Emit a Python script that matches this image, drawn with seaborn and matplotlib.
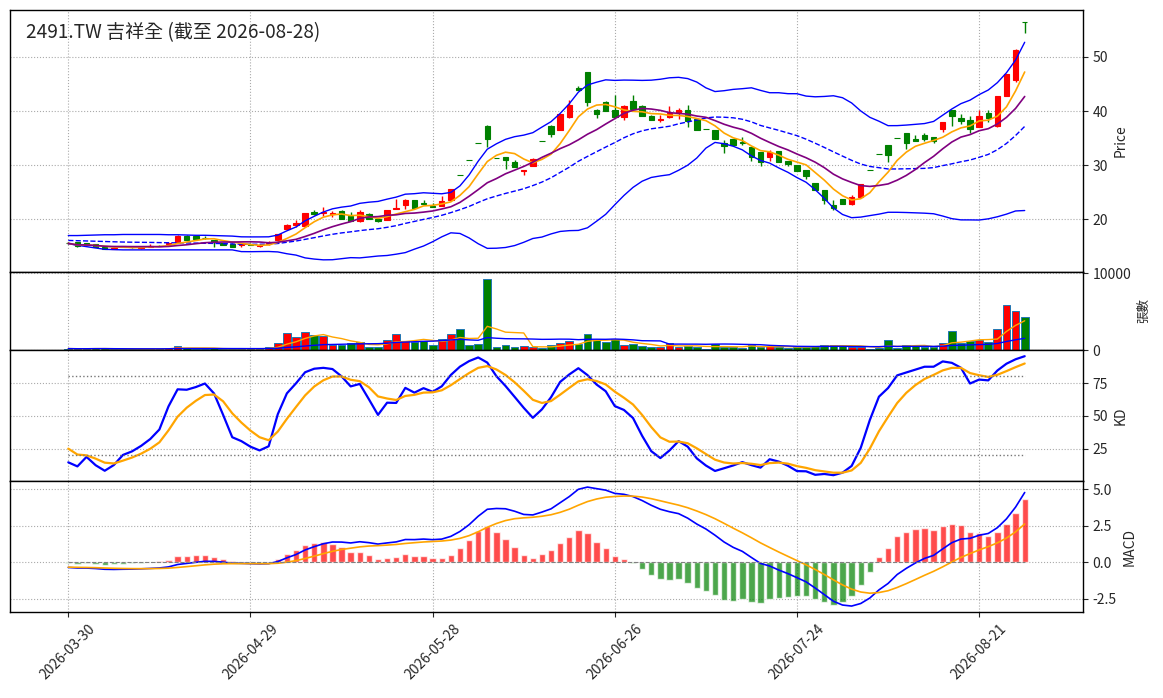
import numpy as np
import pandas as pd
import seaborn as sns
import matplotlib
matplotlib.use("Agg")
import matplotlib.pyplot as plt

# ---- data ----
ticker = "2491.TW"
name = "吉祥全"
holidays = ["2026-04-03", "2026-04-06", "2026-05-01", "2026-06-19"]
dates = pd.bdate_range("2026-03-30", "2026-08-28", freq="C", holidays=holidays)

opens = [15.6, 15.7, 15.5, 15.3, 14.9, 14.5, 14.95, 14.9, 14.6, 14.9,
         15.1, 15.4, 15.5, 16.9, 16.8, 16.5, 16.1, 15.5, 15.4, 15.2,
         15.45, 14.95, 15.3, 16.05, 18.2, 18.9, 18.7, 21.3, 21.1, 20.9,
         21.5, 20.5, 19.6, 21.0, 20.1, 19.8, 21.95, 22.6, 23.55, 22.9,
         22.5, 22.5, 23.56, 28.1, 30.9, 34.0, 37.3, 31.25, 31.4, 30.5,
         28.95, 29.9, 34.45, 37.3, 36.5, 38.9, 44.2, 47.2, 40.2, 41.6,
         40.2, 38.9, 41.8, 41.0, 39.1, 38.4, 38.9, 39.7, 40.2, 38.5,
         36.6, 36.5, 34.1, 34.8, 34.3, 33.3, 32.4, 31.55, 32.6, 30.75,
         29.95, 29.1, 26.6, 25.4, 22.6, 23.68, 22.8, 24.05, 29.1, 32.0,
         33.65, 34.94, 35.9, 34.9, 35.5, 35.1, 36.7, 40.17, 38.7, 38.26,
         37.0, 39.6, 37.2, 42.8, 45.65, 56.5]
highs = [15.8, 15.8, 15.6, 15.4, 15.0, 14.8, 15.0, 15.0, 14.9, 15.3,
         15.2, 15.7, 17.0, 17.0, 16.9, 16.9, 16.2, 15.6, 15.5, 15.5,
         15.5, 15.3, 16.0, 17.2, 19.0, 19.8, 21.1, 21.6, 22.3, 21.5,
         21.6, 21.3, 21.6, 21.1, 20.2, 21.7, 23.7, 23.8, 23.6, 23.5,
         23.0, 24.2, 25.6, 28.1, 30.9, 34.0, 37.4, 31.25, 31.5, 30.9,
         29.0, 31.3, 34.45, 37.4, 39.5, 42.1, 44.6, 47.2, 40.3, 41.8,
         43.0, 41.2, 42.9, 41.1, 39.2, 39.3, 41.0, 40.6, 41.2, 38.5,
         36.6, 36.5, 34.6, 34.8, 35.2, 33.3, 32.4, 32.8, 32.6, 30.8,
         30.0, 29.1, 26.7, 25.4, 23.6, 23.7, 24.4, 26.5, 29.1, 32.0,
         33.7, 34.94, 35.9, 35.5, 35.9, 35.2, 38.0, 40.2, 39.5, 39.1,
         40.2, 40.1, 42.8, 46.8, 51.4, 56.5]
lows = [15.4, 14.9, 15.2, 14.8, 14.4, 14.4, 14.8, 14.7, 14.5, 14.8,
        15.0, 15.3, 15.5, 16.2, 16.4, 16.3, 14.9, 15.2, 14.8, 14.8,
        15.2, 14.9, 15.2, 16.0, 18.2, 18.5, 18.6, 20.8, 20.5, 20.4,
        20.1, 19.6, 19.5, 20.0, 19.5, 19.8, 21.9, 21.9, 22.1, 22.8,
        22.2, 22.4, 23.5, 28.1, 30.9, 34.0, 33.3, 31.25, 29.2, 29.6,
        28.2, 29.8, 34.45, 35.1, 36.4, 38.8, 43.9, 41.0, 38.8, 40.0,
        38.9, 38.4, 40.3, 39.1, 38.3, 37.9, 38.8, 38.6, 37.0, 36.5,
        36.6, 34.9, 32.2, 33.7, 33.8, 30.7, 29.8, 30.7, 30.6, 29.8,
        28.98, 27.4, 25.3, 22.8, 21.6, 22.8, 22.6, 24.0, 29.1, 32.0,
        30.6, 34.94, 32.9, 34.5, 34.5, 34.0, 36.1, 37.2, 37.6, 35.9,
        37.0, 38.0, 37.0, 42.8, 45.3, 54.4]
closes = [15.5, 14.95, 15.2, 14.8, 14.4, 14.7, 14.9, 14.8, 14.9, 15.0,
          15.05, 15.6, 16.9, 16.2, 16.4, 16.5, 15.8, 15.2, 14.8, 15.35,
          15.2, 15.2, 15.5, 17.2, 18.95, 19.3, 21.1, 21.0, 21.4, 21.1,
          20.1, 19.6, 21.4, 20.0, 19.6, 21.7, 22.0, 23.55, 22.1, 22.85,
          22.2, 23.3, 25.5, 28.1, 30.9, 34.0, 34.75, 31.25, 31.0, 29.6,
          29.0, 31.2, 34.45, 35.8, 39.4, 41.1, 43.9, 41.6, 39.5, 40.0,
          38.9, 41.0, 40.3, 39.1, 38.3, 38.6, 39.7, 40.2, 38.1, 36.5,
          36.6, 34.9, 33.5, 33.7, 34.0, 31.55, 30.6, 32.4, 30.6, 30.2,
          28.98, 28.0, 25.3, 23.56, 21.96, 22.8, 24.05, 26.5, 29.1, 32.0,
          31.8, 34.94, 34.1, 34.5, 34.8, 34.4, 37.95, 39.06, 38.2, 36.6,
          39.0, 38.7, 42.75, 46.8, 51.36, 56.5]
volumes = [220, 180, 200, 250, 230, 150, 160, 140, 170, 190,
           160, 300, 560, 260, 200, 180, 240, 200, 190, 210,
           150, 180, 420, 950, 2260, 1690, 2350, 2040, 1830, 700,
           660, 880, 1050, 480, 480, 1300, 2170, 1220, 1090, 1260,
           650, 1520, 2090, 2740, 650, 780, 9260, 390, 650, 390,
           520, 390, 260, 650, 910, 1170, 870, 2170, 1300, 1040,
           1430, 650, 780, 520, 390, 480, 960, 480, 520, 390,
           120, 870, 480, 430, 300, 740, 390, 500, 400, 350,
           450, 450, 600, 700, 700, 500, 450, 450, 200, 300,
           1300, 250, 650, 500, 450, 480, 910, 2480, 940, 1170,
           1300, 1040, 2820, 5870, 5090, 4300]

# values of the 20-day bands before the window fills
bb_mid_head = [16.05, 16.0, 15.95, 15.9, 15.85, 15.8, 15.75, 15.72, 15.7, 15.68,
               15.65, 15.62, 15.6, 15.58, 15.55, 15.52, 15.5, 15.45, 15.4]
bb_up_head = [16.95, 16.95, 17.0, 17.05, 17.1, 17.1, 17.15, 17.15, 17.15, 17.15,
              17.15, 17.1, 17.1, 17.05, 17.0, 17.0, 16.95, 16.9, 16.85]
bb_dn_head = [15.45, 15.15, 14.9, 14.65, 14.4, 14.35, 14.3, 14.3, 14.3, 14.3,
              14.3, 14.3, 14.3, 14.3, 14.3, 14.3, 14.3, 14.3, 14.3]
k_start, d_start = 14.8, 25.2
ema12_start, ema26_start, dea_start = 15.75, 16.11, -0.34

# ---- indicators ----
df = pd.DataFrame({"Open": opens, "High": highs, "Low": lows,
                   "Close": closes, "Volume": volumes}, index=dates)
n = len(df)
x = np.arange(n)
c = df["Close"]

ma5 = c.rolling(5, min_periods=1).mean()
ma10 = c.rolling(10, min_periods=1).mean()
mid = c.rolling(20).mean()
sd = c.rolling(20).std()
up = mid + 2 * sd
dn = mid - 2 * sd
h = len(bb_mid_head)
mid.iloc[:h] = bb_mid_head
up.iloc[:h] = bb_up_head
dn.iloc[:h] = bb_dn_head

vma5 = df["Volume"].rolling(5, min_periods=1).mean()
vma20 = df["Volume"].rolling(20, min_periods=1).mean()

low9 = df["Low"].rolling(9, min_periods=1).min()
high9 = df["High"].rolling(9, min_periods=1).max()
rsv = ((c - low9) / (high9 - low9) * 100).values
k = [k_start]
d = [d_start]
for i in range(1, n):
    k.append(k[-1] * 2 / 3 + rsv[i] / 3)
    d.append(d[-1] * 2 / 3 + k[-1] / 3)

e12, e26, dea_v = ema12_start, ema26_start, dea_start
dif, dea = [e12 - e26], [dea_v]
for i in range(1, n):
    e12 += 2 / 13 * (c.iloc[i] - e12)
    e26 += 2 / 27 * (c.iloc[i] - e26)
    dea_v += 0.2 * ((e12 - e26) - dea_v)
    dif.append(e12 - e26)
    dea.append(dea_v)
dif = np.array(dif)
dea = np.array(dea)
hist = 2 * (dif - dea)

up_day = df["Close"] > df["Open"]
cols = np.where(up_day, "red", "green")

# ---- plot ----
sns.set_style("ticks", {"axes.edgecolor": "black"})
plt.rcParams["font.family"] = ["Noto Sans CJK TC", "DejaVu Sans"]
plt.rcParams["axes.unicode_minus"] = False

fig, axes = plt.subplots(4, 1, figsize=(11.63, 6.98), dpi=100, sharex=True,
                         gridspec_kw={"height_ratios": [4, 1.2, 2, 2], "hspace": 0})
fig.subplots_adjust(left=0.0086, right=0.9312, top=0.9857, bottom=0.1232)
ax1, ax2, ax3, ax4 = axes

# price
ax1.vlines(x, df["Low"], df["High"], color=cols, linewidth=1)
body_lo = np.minimum(df["Open"], df["Close"])
body_h = (df["Close"] - df["Open"]).abs()
bodies = ax1.bar(x, body_h, bottom=body_lo, width=0.6, color=cols,
                 edgecolor=cols, linewidth=0.8)
for p in bodies:
    p.sticky_edges.y.clear()
sns.lineplot(x=x, y=up.values, ax=ax1, color="blue", linewidth=1)
sns.lineplot(x=x, y=dn.values, ax=ax1, color="blue", linewidth=1)
sns.lineplot(x=x, y=mid.values, ax=ax1, color="blue", linewidth=1, linestyle="--")
sns.lineplot(x=x, y=ma5.values, ax=ax1, color="orange", linewidth=1.2)
sns.lineplot(x=x, y=ma10.values, ax=ax1, color="purple", linewidth=1.2)
ax1.relim()
ax1.autoscale_view()
ax1.text(0.015, 0.955, f"{ticker} {name} (截至 {dates[-1]:%Y-%m-%d})",
         transform=ax1.transAxes, va="top", ha="left", fontsize=13.7)
ax1.set_ylabel("Price")

# volume
ax2.bar(x, df["Volume"], width=0.85, color=cols, edgecolor="tab:blue", linewidth=0.7)
sns.lineplot(x=x, y=vma5.values, ax=ax2, color="orange", linewidth=1)
sns.lineplot(x=x, y=vma20.values, ax=ax2, color="blue", linewidth=1)
ax2.set_ylim(0, df["Volume"].max() * 1.1)
ax2.set_yticks([0, 10000])
ax2.set_ylabel("張數", fontsize=9)

# KD
sns.lineplot(x=x, y=k, ax=ax3, color="blue", linewidth=1.6)
sns.lineplot(x=x, y=d, ax=ax3, color="orange", linewidth=1.6)
ax3.hlines([80, 20], x[0], x[-1], colors="#777777", linestyles=":", linewidth=1)
ax3.set_yticks([25, 50, 75])
ax3.set_ylabel("KD")

# MACD
ax4.bar(x, hist, width=0.7, color=np.where(hist >= 0, "red", "green"), alpha=0.7)
sns.lineplot(x=x, y=dif, ax=ax4, color="blue", linewidth=1.2)
sns.lineplot(x=x, y=dea, ax=ax4, color="orange", linewidth=1.2)
ax4.hlines(0, x[0], x[-1], colors="gray", linestyles="--", linewidth=0.8)
ax4.set_ylabel("MACD")

for ax in axes:
    ax.yaxis.tick_right()
    ax.yaxis.set_label_position("right")
    ax.grid(True, linestyle=":", color="#aaaaaa", linewidth=0.8)
    for s in ax.spines.values():
        s.set_linewidth(1)

ticks = x[::20]
ax4.set_xticks(ticks)
ax4.set_xticklabels([dates[i].strftime("%Y-%m-%d") for i in ticks], rotation=45)
ax4.set_xlim(-6.4, 111.4)

plt.savefig("out.png", dpi=100)
